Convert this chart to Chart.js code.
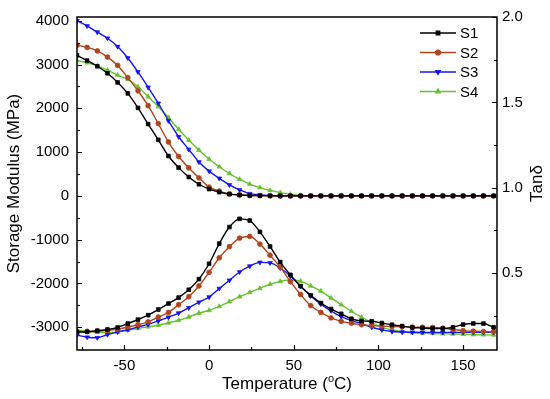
<!DOCTYPE html>
<html>
<head>
<meta charset="utf-8">
<script src="https://cdn.jsdelivr.net/npm/chart.js@4"></script>
<style>
  html, body { margin: 0; padding: 0; background: #fff; }
  #wrap { width: 550px; height: 399px; }
</style>
</head>
<body>
<div id="wrap"><canvas id="dmaChart" width="550" height="399"></canvas></div>
<script>
// temperatures (°C)
const temps = [-78, -72, -66, -60, -54, -48, -42, -36, -30, -24, -18, -12, -6, 0, 6, 12, 18, 24, 30, 36, 42,
  48, 54, 60, 66, 72, 78, 84, 90, 96, 102, 108, 114, 120, 126, 132, 138, 144, 150, 156, 162, 168];

// storage modulus (MPa), left axis
const storageS1 = [3210, 3090, 2960, 2800, 2590, 2340, 2010, 1640, 1280, 910, 645, 430, 265, 155, 85, 40, 20, 10, 5, 2, 0,
  0, 0, 0, 0, 0, 0, 0, 0, 0, 0, 0, 0, 0, 0, 0, 0, 0, 0, 0, 0, 0];
const storageS2 = [3440, 3390, 3310, 3170, 2980, 2700, 2400, 2060, 1650, 1230, 900, 640, 410, 200, 110, 45, 20, 10, 5, 2, 0,
  0, 0, 0, 0, 0, 0, 0, 0, 0, 0, 0, 0, 0, 0, 0, 0, 0, 0, 0, 0, 0];
const storageS3 = [4000, 3880, 3740, 3600, 3410, 3150, 2830, 2480, 2115, 1715, 1350, 1060, 775, 565, 400, 250, 135, 50, 20, 5, 0,
  0, 0, 0, 0, 0, 0, 0, 0, 0, 0, 0, 0, 0, 0, 0, 0, 0, 0, 0, 0, 0];
const storageS4 = [3090, 3040, 2970, 2870, 2760, 2660, 2490, 2265, 2040, 1790, 1520, 1275, 1045, 835, 665, 510, 380, 270, 190, 125, 75,
  35, 12, 3, 0, 0, 0, 0, 0, 0, 0, 0, 0, 0, 0, 0, 0, 0, 0, 0, 0, 0];

// tan delta, right axis
const tanS1 = [0.155, 0.157, 0.163, 0.170, 0.182, 0.205, 0.228, 0.254, 0.287, 0.322, 0.357, 0.403, 0.465, 0.555, 0.673, 0.770, 0.818, 0.808, 0.742, 0.656, 0.565,
  0.490, 0.424, 0.370, 0.325, 0.290, 0.262, 0.233, 0.220, 0.218, 0.208, 0.198, 0.190, 0.182, 0.179, 0.176, 0.176, 0.183, 0.199, 0.205, 0.205, 0.183];
const tanS2 = [0.157, 0.158, 0.160, 0.165, 0.172, 0.185, 0.198, 0.215, 0.243, 0.270, 0.315, 0.362, 0.425, 0.505, 0.590, 0.655, 0.705, 0.715, 0.670, 0.605, 0.535,
  0.450, 0.375, 0.310, 0.270, 0.238, 0.218, 0.207, 0.198, 0.193, 0.190, 0.188, 0.186, 0.184, 0.183, 0.182, 0.178, 0.170, 0.163, 0.160, 0.158, 0.157];
const tanS3 = [0.137, 0.125, 0.122, 0.140, 0.156, 0.169, 0.185, 0.200, 0.220, 0.242, 0.266, 0.297, 0.330, 0.360, 0.410, 0.458, 0.507, 0.541, 0.563, 0.560, 0.530,
  0.483, 0.424, 0.367, 0.319, 0.280, 0.245, 0.222, 0.205, 0.183, 0.168, 0.158, 0.155, 0.154, 0.153, 0.153, 0.153, 0.153, 0.153, 0.153, 0.153, 0.153];
const tanS4 = [0.167, 0.160, 0.155, 0.151, 0.155, 0.166, 0.176, 0.186, 0.195, 0.209, 0.224, 0.243, 0.266, 0.282, 0.305, 0.333, 0.362, 0.387, 0.411, 0.435, 0.452,
  0.460, 0.453, 0.425, 0.395, 0.355, 0.315, 0.277, 0.242, 0.210, 0.183, 0.167, 0.157, 0.151, 0.149, 0.147, 0.145, 0.144, 0.142, 0.140, 0.139, 0.138];

const seriesNames = ["S1", "S2", "S3", "S4"];

// axis ticks
const xTicks = [-50, 0, 50, 100, 150];
const xMinorTicks = [-75, -25, 25, 75, 125];
const leftTicks = [-3000, -2000, -1000, 0, 1000, 2000, 3000, 4000];
const leftMinorTicks = [-2500, -1500, -500, 500, 1500, 2500, 3500];
const rightTicks = [0.5, 1.0, 1.5, 2.0];
const rightMinorTicks = [0.25, 0.75, 1.25, 1.75];

const colores = ["#000000", "#b0441c", "#1414f0", "#66c22e"];
const estilos = [
  { pointStyle: "rect", rotation: 0 },
  { pointStyle: "circle", rotation: 0 },
  { pointStyle: "triangle", rotation: 180 },
  { pointStyle: "triangle", rotation: 0 }
];

const FONT = "'Liberation Sans', Arial, sans-serif";

function toPoints(values) {
  return temps.map((t, i) => ({ x: t, y: values[i] }));
}

function makeDataset(label, values, idx, axis) {
  return {
    label: label,
    data: toPoints(values),
    yAxisID: axis,
    borderColor: colores[idx],
    backgroundColor: colores[idx],
    borderWidth: 1.4,
    pointRadius: idx === 1 ? 2.4 : 2.6,
    pointBorderWidth: 0.8,
    pointStyle: estilos[idx].pointStyle,
    rotation: estilos[idx].rotation,
    cubicInterpolationMode: "monotone"
  };
}

const storageData = [storageS1, storageS2, storageS3, storageS4];
const tanData = [tanS1, tanS2, tanS3, tanS4];

const datasets = [];
seriesNames.forEach((name, i) => datasets.push(makeDataset(name, storageData[i], i, "y")));
seriesNames.forEach((name, i) => datasets.push(makeDataset(name + " tan", tanData[i], i, "y1")));

// frame, inward tick marks, titles and legend
const decorPlugin = {
  id: "decor",
  afterDatasetsDraw(chart) {
    const ctx = chart.ctx;
    const a = chart.chartArea;
    const sx = chart.scales.x, sy = chart.scales.y, sy1 = chart.scales.y1;

    ctx.save();
    ctx.strokeStyle = "#000";
    ctx.lineWidth = 1.5;
    ctx.strokeRect(a.left, a.top, a.right - a.left, a.bottom - a.top);

    ctx.lineWidth = 1.2;
    ctx.beginPath();
    const tickX = (vals, len) => vals.forEach(v => {
      const px = Math.round(sx.getPixelForValue(v)) + 0.5;
      ctx.moveTo(px, a.bottom); ctx.lineTo(px, a.bottom - len);
    });
    const tickL = (vals, len) => vals.forEach(v => {
      const py = Math.round(sy.getPixelForValue(v)) + 0.5;
      ctx.moveTo(a.left, py); ctx.lineTo(a.left + len, py);
    });
    const tickR = (vals, len) => vals.forEach(v => {
      const py = Math.round(sy1.getPixelForValue(v)) + 0.5;
      ctx.moveTo(a.right, py); ctx.lineTo(a.right - len, py);
    });
    tickX(xTicks, 5); tickX(xMinorTicks, 3);
    tickL(leftTicks, 5); tickL(leftMinorTicks, 3);
    tickR(rightTicks, 5); tickR(rightMinorTicks, 3);
    ctx.stroke();

    // legend
    const lx0 = a.right - 77, lx1 = a.right - 41;
    seriesNames.forEach((name, i) => {
      const ly = a.top + 16 + i * 19.5;
      ctx.strokeStyle = colores[i];
      ctx.lineWidth = 1.4;
      ctx.beginPath();
      ctx.moveTo(lx0, ly); ctx.lineTo(lx1, ly);
      ctx.stroke();
      ctx.fillStyle = colores[i];
      Chart.helpers.drawPoint(ctx, {
        pointStyle: estilos[i].pointStyle,
        rotation: estilos[i].rotation,
        radius: 2.4,
        borderWidth: 0.8
      }, (lx0 + lx1) / 2, ly);
      ctx.fillStyle = "#000";
      ctx.font = "15px " + FONT;
      ctx.textAlign = "left";
      ctx.textBaseline = "middle";
      ctx.fillText(name, lx1 + 4, ly + 1);
    });

    // axis titles
    const cy = (a.top + a.bottom) / 2;
    ctx.fillStyle = "#000";
    ctx.font = "17px " + FONT;
    ctx.textAlign = "center";
    ctx.textBaseline = "middle";

    ctx.save();
    ctx.translate(14, cy);
    ctx.rotate(-Math.PI / 2);
    ctx.fillText("Storage Modulus (MPa)", 0, 0);
    ctx.restore();

    ctx.save();
    ctx.translate(537, cy);
    ctx.rotate(-Math.PI / 2);
    ctx.fillText("Tanδ", 0, 0);
    ctx.restore();

    // Temperature (oC) with superscript o
    const p1 = "Temperature (", p2 = "o", p3 = "C)";
    ctx.font = "17px " + FONT;
    const w1 = ctx.measureText(p1).width, w3 = ctx.measureText(p3).width;
    ctx.font = "11px " + FONT;
    const w2 = ctx.measureText(p2).width;
    let x = (a.left + a.right) / 2 - (w1 + w2 + w3) / 2;
    const ty = 384;
    ctx.textAlign = "left";
    ctx.font = "17px " + FONT;
    ctx.fillText(p1, x, ty);
    ctx.font = "11px " + FONT;
    ctx.fillText(p2, x + w1, ty - 5);
    ctx.font = "17px " + FONT;
    ctx.fillText(p3, x + w1 + w2, ty);
    ctx.restore();
  }
};

const tickFont = { family: FONT, size: 15 };

new Chart(document.getElementById("dmaChart"), {
  type: "line",
  data: { datasets: datasets },
  options: {
    responsive: false,
    animation: false,
    layout: { padding: { top: 13, left: 0, right: 0, bottom: 0 } },
    plugins: {
      legend: { display: false },
      tooltip: { enabled: false }
    },
    scales: {
      x: {
        type: "linear",
        min: -78,
        max: 170,
        afterBuildTicks: scale => { scale.ticks = xTicks.map(v => ({ value: v })); },
        afterFit: scale => { scale.height = 49; },
        grid: { display: false, drawTicks: false },
        border: { display: false },
        ticks: { font: tickFont, color: "#000", padding: 7, maxRotation: 0, callback: v => String(v) }
      },
      y: {
        position: "left",
        min: -3520,
        max: 4085,
        afterBuildTicks: scale => { scale.ticks = leftTicks.map(v => ({ value: v })); },
        afterFit: scale => { scale.width = 77; },
        grid: { display: false, drawTicks: false },
        border: { display: false },
        ticks: { font: tickFont, color: "#000", padding: 8, callback: v => String(v) }
      },
      y1: {
        position: "right",
        min: 0.05,
        max: 2.0,
        afterBuildTicks: scale => { scale.ticks = rightTicks.map(v => ({ value: v })); },
        afterFit: scale => { scale.width = 53; },
        grid: { display: false, drawTicks: false },
        border: { display: false },
        ticks: { font: tickFont, color: "#000", padding: 5, callback: v => Number(v).toFixed(1) }
      }
    }
  },
  plugins: [decorPlugin]
});
</script>
</body>
</html>
